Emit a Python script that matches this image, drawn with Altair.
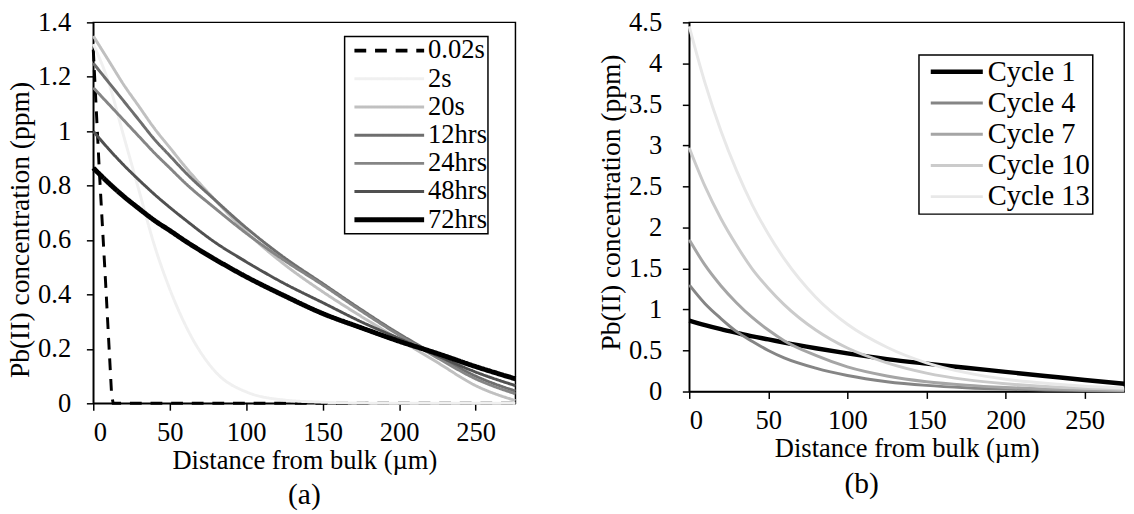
import altair as alt
import pandas as pd

FONT = "Liberation Serif"

# ---------------- panel (a) ----------------
a_x = [0, 10, 20, 30, 40, 50, 60, 80, 100, 125, 150, 175, 200, 225, 250, 276]
a_2s = [1.32, 1.18, 0.98, 0.78, 0.58, 0.42, 0.29, 0.115, 0.042, 0.012, 0.004, 0.001, 0.0, 0.0, 0.0, 0.0]
a_20s = [1.35, 1.26, 1.17, 1.09, 1.01, 0.94, 0.87, 0.745, 0.63, 0.51, 0.41, 0.32, 0.235, 0.15, 0.065, 0.01]
a_12hrs = [1.25, 1.18, 1.11, 1.04, 0.97, 0.91, 0.85, 0.745, 0.645, 0.535, 0.44, 0.345, 0.255, 0.175, 0.10, 0.045]
a_24hrs = [1.16, 1.10, 1.04, 0.98, 0.92, 0.865, 0.81, 0.715, 0.625, 0.525, 0.435, 0.34, 0.25, 0.167, 0.09, 0.035]
a_48hrs = [1.0, 0.935, 0.875, 0.82, 0.768, 0.72, 0.675, 0.59, 0.52, 0.44, 0.37, 0.30, 0.238, 0.175, 0.115, 0.065]
a_72hrs = [0.865, 0.81, 0.76, 0.715, 0.672, 0.635, 0.597, 0.528, 0.465, 0.395, 0.33, 0.278, 0.228, 0.183, 0.135, 0.09]
a_dash_x = [0, 4, 8, 12, 13, 276]
a_dash_y = [1.3, 0.85, 0.45, 0.03, 0.0, 0.0]

names_a = ["0.02s", "2s", "20s", "12hrs", "24hrs", "48hrs", "72hrs"]
colors_a = ["#000000", "#f0f0f0", "#c0c0c0", "#6e6e6e", "#858585", "#505050", "#000000"]
dash_a = [[12, 9], [1, 0], [1, 0], [1, 0], [1, 0], [1, 0], [1, 0]]
a_xticks = [0, 50, 100, 150, 200, 250]
a_yticks = [0, 0.2, 0.4, 0.6, 0.8, 1, 1.2, 1.4]

# ---------------- panel (b) ----------------
b_x = [0, 10, 20, 30, 40, 50, 60, 80, 100, 125, 150, 175, 200, 225, 250, 275]
b_c1 = [0.865, 0.81, 0.76, 0.715, 0.672, 0.635, 0.597, 0.528, 0.465, 0.395, 0.34, 0.29, 0.24, 0.19, 0.14, 0.095]
b_c4 = [1.30, 1.07, 0.89, 0.73, 0.61, 0.50, 0.41, 0.285, 0.195, 0.12, 0.075, 0.047, 0.029, 0.018, 0.011, 0.007]
b_c7 = [1.85, 1.54, 1.29, 1.08, 0.90, 0.75, 0.62, 0.44, 0.30, 0.19, 0.12, 0.078, 0.05, 0.031, 0.02, 0.013]
b_c10 = [2.97, 2.50, 2.11, 1.78, 1.49, 1.26, 1.06, 0.75, 0.53, 0.35, 0.225, 0.145, 0.095, 0.062, 0.04, 0.026]
b_c13 = [4.45, 3.76, 3.18, 2.69, 2.27, 1.92, 1.62, 1.15, 0.82, 0.54, 0.35, 0.23, 0.15, 0.10, 0.065, 0.042]

names_b = ["Cycle 1", "Cycle 4", "Cycle 7", "Cycle 10", "Cycle 13"]
colors_b = ["#000000", "#858585", "#a5a5a5", "#cbcbcb", "#e8e8e8"]
b_xticks = [0, 50, 100, 150, 200, 250]
b_yticks = [0, 0.5, 1, 1.5, 2, 2.5, 3, 3.5, 4, 4.5]


def long_frame(xs, named_series, key):
    rows = []
    for name, ys in named_series:
        for xv, yv in zip(xs, ys):
            rows.append({"x": xv, "y": yv, key: name})
    return pd.DataFrame(rows)


df_a = pd.concat([
    long_frame(a_dash_x, [("0.02s", a_dash_y)], "sa"),
    long_frame(a_x, [("2s", a_2s), ("20s", a_20s), ("12hrs", a_12hrs),
                     ("24hrs", a_24hrs), ("48hrs", a_48hrs), ("72hrs", a_72hrs)], "sa"),
], ignore_index=True)

df_b = long_frame(b_x, [("Cycle 1", b_c1), ("Cycle 4", b_c4), ("Cycle 7", b_c7),
                        ("Cycle 10", b_c10), ("Cycle 13", b_c13)], "sb")

# ---------------- chart (a) ----------------
legend_a = alt.Legend(
    title=None, orient="none", legendX=256, legendY=14.3,
    labelFontSize=27, symbolType="M-0.5625,0H8.31", symbolSize=256,
    labelOffset=57, padding=1, rowPadding=0.7,
    symbolStrokeWidth=alt.ExprRef("datum.value === '72hrs' ? 5 : (datum.value === '0.02s' ? 4 : 3)"),
)

xa = alt.X("x:Q", scale=alt.Scale(domain=[0, 276], nice=False, zero=False),
           axis=alt.Axis(values=a_xticks, title="Distance from bulk (µm)"))
ya = alt.Y("y:Q", scale=alt.Scale(domain=[0, 1.4], nice=False),
           axis=alt.Axis(values=a_yticks, format="~g", title="Pb(II) concentration (ppm)",
                         labelPadding=16, titleY=211))
col_a = alt.Color("sa:N", scale=alt.Scale(domain=names_a, range=colors_a), legend=legend_a)
sd_a = alt.StrokeDash("sa:N", scale=alt.Scale(domain=names_a, range=dash_a), legend=legend_a)

base_a = alt.Chart(df_a).encode(x=xa, y=ya, color=col_a, strokeDash=sd_a)
dashed_a = base_a.transform_filter(alt.datum.sa == "0.02s").mark_line(strokeWidth=3, interpolate="linear")
thin_a = base_a.transform_filter(
    alt.FieldOneOfPredicate(field="sa", oneOf=["2s", "20s", "12hrs", "24hrs", "48hrs"])
).mark_line(strokeWidth=3, interpolate="monotone")
thick_a = base_a.transform_filter(alt.datum.sa == "72hrs").mark_line(strokeWidth=5, interpolate="monotone")

chart_a = alt.layer(dashed_a, thin_a, thick_a).properties(
    width=430, height=388,
    title=alt.TitleParams("(a)", orient="bottom", frame="group", dx=0, offset=8),
)

# ---------------- chart (b) ----------------
legend_b = alt.Legend(
    title=None, orient="none", legendX=234, legendY=33.3,
    labelFontSize=29, symbolType="M-0.625,0H6", symbolSize=256,
    labelOffset=38.5, padding=2.5, rowPadding=1.8,
    symbolStrokeWidth=alt.ExprRef("datum.value === 'Cycle 1' ? 4.5 : 3"),
)

xb = alt.X("x:Q", scale=alt.Scale(domain=[0, 275], nice=False, zero=False),
           axis=alt.Axis(values=b_xticks, title="Distance from bulk (µm)"))
yb = alt.Y("y:Q", scale=alt.Scale(domain=[0, 4.5], nice=False),
           axis=alt.Axis(values=b_yticks, format="~g", title="Pb(II) concentration (ppm)",
                         labelPadding=21, titleY=183))
col_b = alt.Color("sb:N", scale=alt.Scale(domain=names_b, range=colors_b), legend=legend_b)

base_b = alt.Chart(df_b).encode(x=xb, y=yb, color=col_b)
thick_b = base_b.transform_filter(alt.datum.sb == "Cycle 1").mark_line(strokeWidth=4.5, interpolate="monotone")
thin_b = base_b.transform_filter(alt.datum.sb != "Cycle 1").mark_line(strokeWidth=3, interpolate="monotone")

chart_b = alt.layer(thick_b, thin_b).properties(
    width=443, height=376,
    title=alt.TitleParams("(b)", orient="bottom", frame="group", dx=-46, offset=8),
)

chart = alt.hconcat(chart_a, chart_b, spacing=72).resolve_scale(
    color="independent", strokeDash="independent"
).resolve_legend(
    color="independent", strokeDash="independent"
).properties(
    padding={"left": 6, "top": 3, "right": 0, "bottom": 0}
).configure(font=FONT).configure_view(
    stroke="black", strokeWidth=1.5
).configure_axis(
    labelFont=FONT, titleFont=FONT, labelFontSize=27, titleFontSize=28,
    titleFontWeight="normal", labelColor="black", titleColor="black",
    domainColor="black", tickColor="black", domainWidth=1.5, tickWidth=1.5,
    tickSize=7, grid=False,
).configure_axisX(labelPadding=10, titlePadding=2, titleFontSize=27).configure_axisY(
    titlePadding=3
).configure_legend(
    labelFont=FONT, labelColor="black", strokeColor="black", fillColor="white", strokeWidth=1.5,
).configure_title(font=FONT, fontSize=30, fontWeight="normal", color="black")

chart.save("out.html", embed_options={"renderer": "svg", "actions": False})
